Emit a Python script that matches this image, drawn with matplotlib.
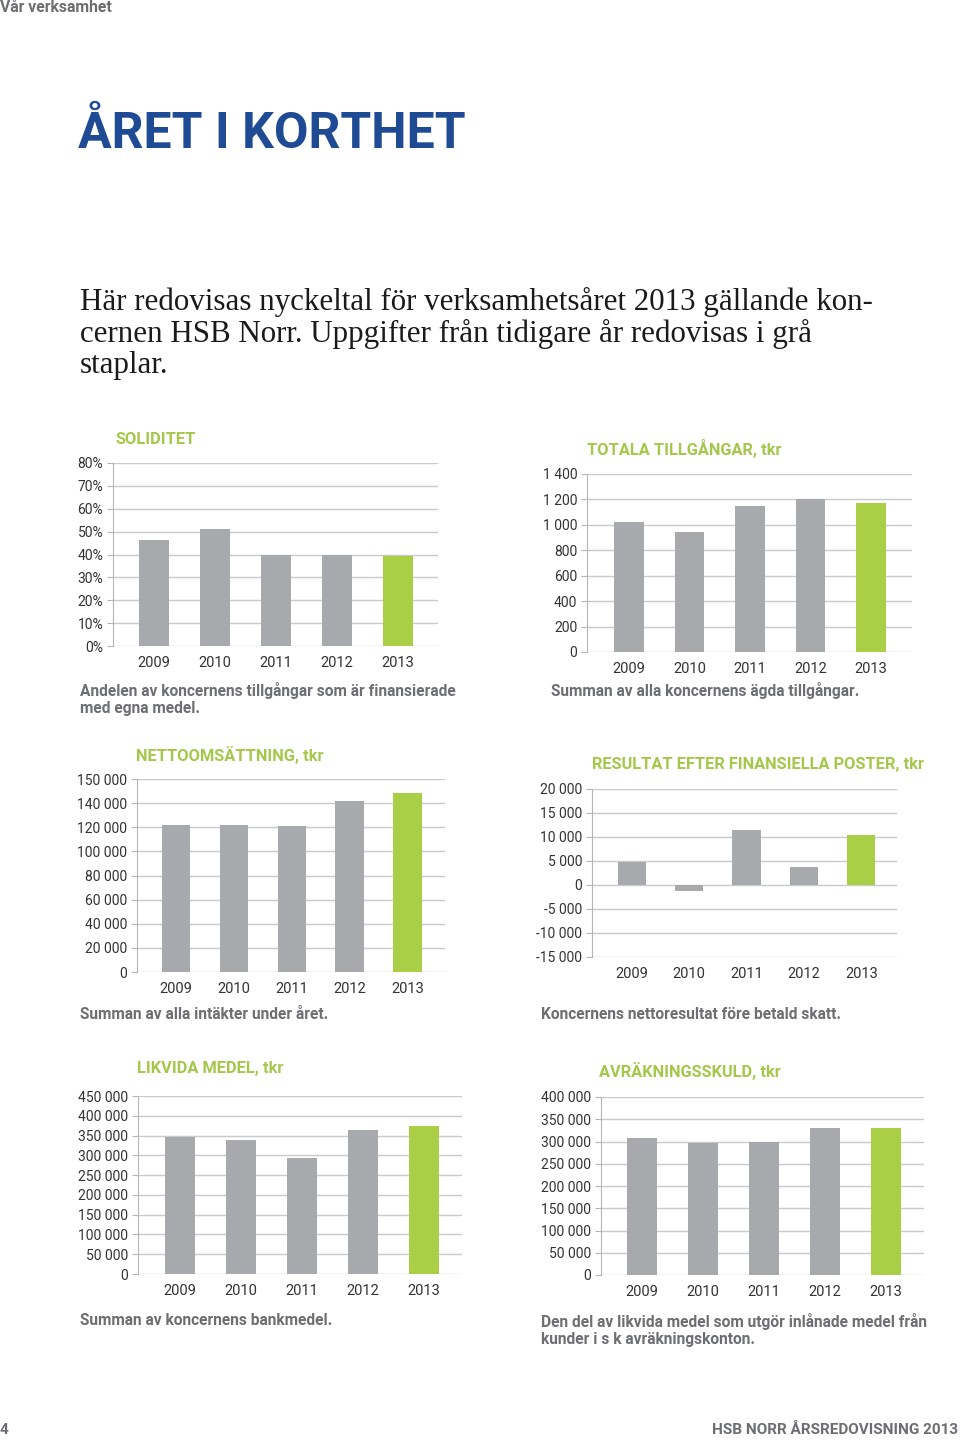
import matplotlib.pyplot as plt
from matplotlib.ticker import FixedLocator, FixedFormatter

plt.rcParams["font.family"] = ["Roboto", "DejaVu Sans"]

years = ["2009", "2010", "2011", "2012", "2013"]

soliditet = [46.5, 51, 40, 40, 39.5]
soliditet_ticks = [0, 10, 20, 30, 40, 50, 60, 70, 80]
soliditet_labels = ["0%", "10%", "20%", "30%", "40%", "50%", "60%", "70%", "80%"]

tillgangar = [1020, 943, 1150, 1200, 1175]
tillgangar_ticks = [0, 200, 400, 600, 800, 1000, 1200, 1400]
tillgangar_labels = ["0", "200", "400", "600", "800", "1 000", "1 200", "1 400"]

netto = [122000, 122000, 120800, 142000, 148300]
netto_ticks = [0, 20000, 40000, 60000, 80000, 100000, 120000, 140000, 160000]
netto_labels = ["0", "20 000", "40 000", "60 000", "80 000", "100 000",
                "120 000", "140 000", "150 000"]

resultat = [4700, -1200, 11500, 3800, 10400]
resultat_ticks = [-15000, -10000, -5000, 0, 5000, 10000, 15000, 20000]
resultat_labels = ["-15 000", "-10 000", "-5 000", "0", "5 000", "10 000",
                   "15 000", "20 000"]

likvida = [346800, 340000, 293000, 364500, 373700]
likvida_ticks = [0, 50000, 100000, 150000, 200000, 250000, 300000, 350000,
                 400000, 450000]
likvida_labels = ["0", "50 000", "100 000", "150 000", "200 000", "250 000",
                  "300 000", "350 000", "400 000", "450 000"]

avrakning = [308300, 296200, 300000, 329300, 329300]
avrakning_ticks = [0, 50000, 100000, 150000, 200000, 250000, 300000, 350000,
                   400000]
avrakning_labels = ["0", "50 000", "100 000", "150 000", "200 000", "250 000",
                    "300 000", "350 000", "400 000"]

GRAY = "#a7a9ac"
GREEN = "#a8cf45"
TITLE_GREEN = "#a5c74a"
TEXT_GRAY = "#6d6e71"
BLUE = "#1f4b95"

W, H = 960, 1440
fig = plt.figure(figsize=(9.6, 14.4), dpi=100)


def px_axes(x0, y_top, x1, y_bot):
    return fig.add_axes([x0 / W, 1 - y_bot / H, (x1 - x0) / W, (y_bot - y_top) / H])


def chart(box, values, ticks, labels, title, title_xy, caption, caption_xy):
    x0, y_top, x1, y_bot, lm, rm = box
    ax = px_axes(x0, y_top, x1, y_bot)
    colors = [GRAY] * (len(values) - 1) + [GREEN]
    ax.bar(range(len(values)), values, width=0.49, color=colors, zorder=3)
    ax.set_ylim(ticks[0], ticks[-1])
    ax.set_xlim(-lm, len(values) - 1 + rm)
    ax.yaxis.set_major_locator(FixedLocator(ticks))
    ax.yaxis.set_major_formatter(FixedFormatter(labels))
    ax.set_xticks(range(len(values)))
    ax.set_xticklabels(years)
    ax.grid(axis="y", color="#c9cacb", linewidth=1, zorder=0)
    for s in ["top", "right", "bottom"]:
        ax.spines[s].set_visible(False)
    ax.spines["left"].set_color("#b5b6b8")
    ax.tick_params(axis="y", length=4, color="#b5b6b8", labelsize=10,
                   labelcolor="#333333", pad=3)
    ax.tick_params(axis="x", length=0, labelsize=10.5, labelcolor="#333333", pad=7)
    fig.text(title_xy[0] / W, 1 - title_xy[1] / H, title, color=TITLE_GREEN,
             fontsize=11.8, fontweight="bold", va="center")
    fig.text(caption_xy[0] / W, 1 - caption_xy[1] / H, caption, color=TEXT_GRAY,
             fontsize=11.2, fontweight="bold", va="top", linespacing=1.2)
    return ax


chart((113, 463, 438, 646, 0.67, 0.66), soliditet, soliditet_ticks, soliditet_labels,
      "SOLIDITET", (115, 439),
      "Andelen av koncernens tillgångar som är finansierade\nmed egna medel.", (80, 682))

chart((587, 474, 912, 652, 0.70, 0.68), tillgangar, tillgangar_ticks, tillgangar_labels,
      "TOTALA TILLGÅNGAR, tkr", (587, 449),
      "Summan av alla koncernens ägda tillgångar.", (551, 682))

chart((137, 779, 445, 972, 0.68, 0.65), netto, netto_ticks, netto_labels,
      "NETTOOMSÄTTNING, tkr", (136, 755),
      "Summan av alla intäkter under året.", (80, 1007))

chart((592, 789, 897, 957, 0.69, 0.62), resultat, resultat_ticks, resultat_labels,
      "RESULTAT EFTER FINANSIELLA POSTER, tkr", (592, 764),
      "Koncernens nettoresultat före betald skatt.", (541, 1007))

chart((138, 1096, 462, 1274, 0.68, 0.62), likvida, likvida_ticks, likvida_labels,
      "LIKVIDA MEDEL, tkr", (137, 1069),
      "Summan av koncernens bankmedel.", (80, 1313))

chart((601, 1097, 924, 1275, 0.67, 0.62), avrakning, avrakning_ticks, avrakning_labels,
      "AVRÄKNINGSSKULD, tkr", (599, 1071),
      "Den del av likvida medel som utgör inlånade medel från\n"
      "kunder i s k avräkningskonton.", (541, 1313))

# page header and footer
fig.text(0 / W, 1 - 8 / H, "Vår verksamhet", color=TEXT_GRAY, fontsize=11.3,
         fontweight="bold", va="center")
fig.text(78 / W, 1 - 134 / H, "ÅRET I KORTHET", color=BLUE, fontsize=36,
         fontweight="bold", va="center")
fig.text(80 / W, 1 - 287 / H,
         "Här redovisas nyckeltal för verksamhetsåret 2013 gällande kon-\n"
         "cernen HSB Norr. Uppgifter från tidigare år redovisas i grå\n"
         "staplar.", color="#1a1a1a", fontsize=22.3, family="Liberation Serif",
         va="top", linespacing=1.09)
fig.text(0 / W, 1 - 1430 / H, "4", color=TEXT_GRAY, fontsize=11,
         fontweight="bold", va="center")
fig.text(958 / W, 1 - 1430 / H, "HSB NORR ÅRSREDOVISNING 2013", color=TEXT_GRAY,
         fontsize=11, fontweight="bold", va="center", ha="right")

fig.savefig("out.png", dpi=100)
